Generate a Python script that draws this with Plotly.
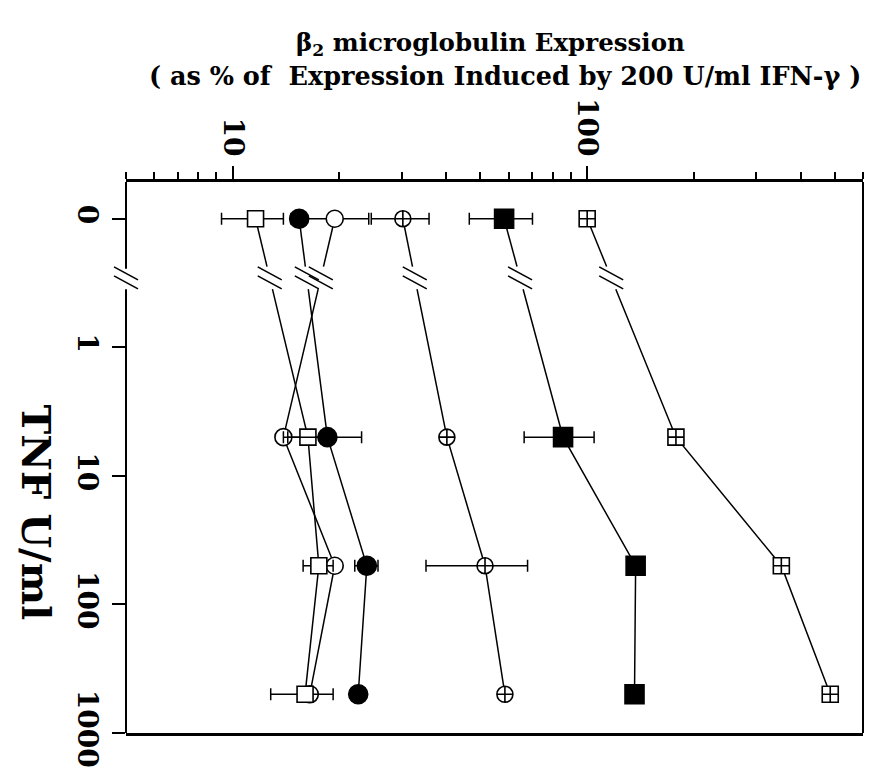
import numpy as np
import plotly.graph_objects as go

# ---------------- data ----------------
tnf_tickvals = [0.1, 1, 10, 100, 1000]          # "0" is drawn at the broken-axis position 0.1
tnf_ticktext = ["0", "1", "10", "100", "1000"]
tnf_doses = [0.1, 5, 50, 500]                   # TNF U/ml (0 shown at 0.1)

expr_tickvals = [10, 100]
expr_ticktext = ["10", "100"]
expr_minor = [5, 6, 7, 8, 9, 20, 30, 40, 50, 60, 70, 80, 90, 200, 300, 400, 500, 600]

open_square = [11.6, 16.3, 17.5, 16.0]
open_square_err = [2.3, 2.0, 1.7, 3.2]
filled_circle = [15.4, 18.5, 23.9, 22.6]
filled_circle_err = [None, 4.6, 1.8, None]
open_circle = [19.4, 13.9, 19.4, 16.5]
open_circle_err = [4.8, None, None, None]
crossed_circle = [30.2, 40.2, 51.5, 58.6]
crossed_circle_err = [5.6, None, 16.4, None]
filled_square = [58.3, 85.5, 137, 136]
filled_square_err = [11.8, 19.1, None, None]
crossed_square = [100, 178, 353, 485]
crossed_square_err = [None, None, None, None]

# ---------------- geometry helpers ----------------
X_RANGE = [np.log10(5), np.log10(600)]
Y_RANGE = [3.0, -1.2857]          # reversed log axis
Y_BREAK = -0.54                   # log10 position of the axis break
Y_GAP = 0.088                     # half gap (log units)

def px_paper(L):
    return (L - X_RANGE[0]) / (X_RANGE[1] - X_RANGE[0])

def py_paper(L):
    return (L - Y_RANGE[0]) / (Y_RANGE[1] - Y_RANGE[0])

FONT = "DejaVu Serif"
fig = go.Figure()

series = [
    # name, values, errors, symbol, fill, size
    ("open circle", open_circle, open_circle_err, "circle", "white", 17),
    ("open square", open_square, open_square_err, "square", "white", 16),
    ("filled circle", filled_circle, filled_circle_err, "circle", "black", 19),
    ("crossed circle", crossed_circle, crossed_circle_err, "circle-cross", "white", 16),
    ("filled square", filled_square, filled_square_err, "square", "black", 19),
    ("crossed square", crossed_square, crossed_square_err, "square-cross", "white", 16),
]

shapes = []

def slash_pair(xanchor, yanchor):
    out = []
    for off in (4.5, -4.5):
        out.append(dict(type="line", xref="paper", yref="paper",
                        xsizemode="pixel", ysizemode="pixel",
                        xanchor=xanchor, yanchor=yanchor,
                        x0=-12, x1=12, y0=6.5 + off, y1=-6.5 + off,
                        line=dict(color="black", width=1.6), layer="above"))
    return out

ly = np.log10(tnf_doses)
# connecting lines (with break between 0 and 5)
for name, vals, errs, sym, fill, size in series:
    lv = np.log10(vals)
    def x_at(yl):
        return lv[0] + (lv[1] - lv[0]) * (yl - ly[0]) / (ly[1] - ly[0])
    ya, yb2 = Y_BREAK - Y_GAP, Y_BREAK + Y_GAP
    xs = [vals[0], 10 ** x_at(ya), None, 10 ** x_at(yb2)] + list(vals[1:])
    ys = [tnf_doses[0], 10 ** ya, None, 10 ** yb2] + list(tnf_doses[1:])
    fig.add_trace(go.Scatter(x=xs, y=ys, mode="lines", connectgaps=False,
                             line=dict(color="black", width=1.5),
                             showlegend=False, hoverinfo="skip"))
    shapes += slash_pair(px_paper(x_at(Y_BREAK)), py_paper(Y_BREAK))

# markers with horizontal error bars
for name, vals, errs, sym, fill, size in series:
    fig.add_trace(go.Scatter(
        x=vals, y=tnf_doses, mode="markers", name=name,
        marker=dict(symbol=sym, size=size, color=fill,
                    line=dict(color="black", width=1.6)),
        error_x=dict(type="data", array=errs, symmetric=True,
                     color="black", thickness=1.5, width=6),
        showlegend=False))

# frame: right side and broken left side
shapes.append(dict(type="line", xref="paper", yref="paper", x0=1, x1=1, y0=0, y1=1,
                   line=dict(color="black", width=2)))
shapes.append(dict(type="line", xref="paper", yref="paper", x0=0, x1=0,
                   y0=1, y1=py_paper(Y_BREAK - Y_GAP * 0.8),
                   line=dict(color="black", width=2)))
shapes.append(dict(type="line", xref="paper", yref="paper", x0=0, x1=0,
                   y0=py_paper(Y_BREAK + Y_GAP), y1=0,
                   line=dict(color="black", width=2)))
shapes += slash_pair(0, py_paper(Y_BREAK))

tickfont = dict(family=FONT, size=28, color="black", weight="bold")

# page body has an 8px default margin, so the figure is 8px smaller
fig.update_layout(
    width=871, height=772,
    margin=dict(l=118, r=16, t=174, b=40),
    paper_bgcolor="white", plot_bgcolor="white",
    showlegend=False,
    shapes=shapes,
    xaxis=dict(type="log", side="top", range=X_RANGE,
               tickmode="array", tickvals=expr_tickvals, ticktext=expr_ticktext,
               tickangle=90, ticks="outside", ticklen=13, tickwidth=1.5,
               tickcolor="black", tickfont=tickfont,
               minor=dict(ticks="outside", ticklen=7, tickwidth=1.5,
                          tickcolor="black", tickmode="array", tickvals=expr_minor,
                          showgrid=False),
               showline=True, linewidth=2.5, linecolor="black", mirror=True,
               showgrid=False, zeroline=False),
    yaxis=dict(type="log", range=Y_RANGE,
               tickmode="array", tickvals=tnf_tickvals, ticktext=tnf_ticktext,
               tickangle=90, ticks="outside", ticklen=13, tickwidth=1.5,
               tickcolor="black", tickfont=tickfont,
               showline=False, showgrid=False, zeroline=False),
    annotations=[
        dict(text="β<sub>2</sub> microglobulin Expression", xref="paper", yref="paper",
             x=0.494, y=1.2505, xanchor="center", yanchor="middle", showarrow=False,
             font=dict(family=FONT, size=24.5, color="black", weight="bold")),
        dict(text="( as % of  Expression Induced by 200 U/ml IFN-γ )", xref="paper", yref="paper",
             x=0.514, y=1.193, xanchor="center", yanchor="middle", showarrow=False,
             font=dict(family=FONT, size=25.5, color="black", weight="bold")),
        dict(text="TNF U/ml", xref="paper", yref="paper", x=-0.122, y=0.40,
             xanchor="center", yanchor="middle", textangle=90, showarrow=False,
             font=dict(family=FONT, size=40, color="black", weight="bold")),
    ],
)

fig.write_html("out.html")
